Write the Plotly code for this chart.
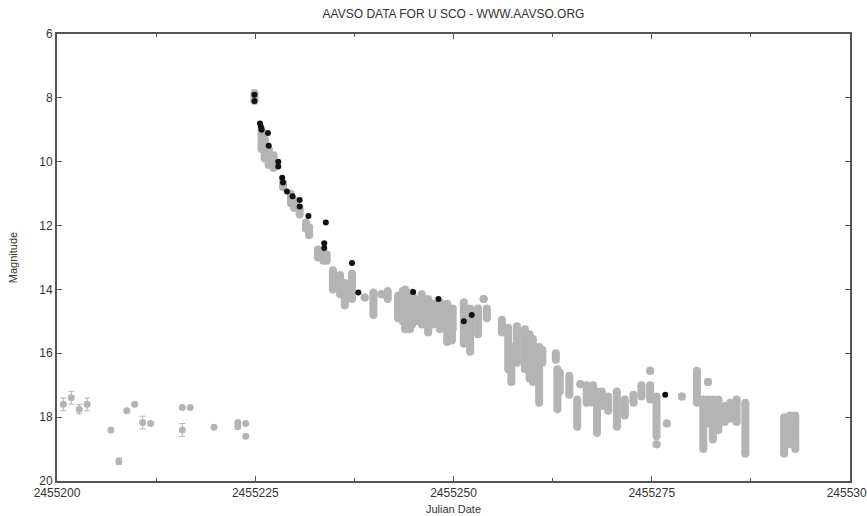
import plotly.graph_objects as go

# ---------------- data (JD offsets from 2455200, magnitudes) ----------------
JD0 = 2455200

# quiescent / pre-outburst observations with error bars
pre_jd = [0.8, 1.8, 2.8, 3.8, 6.8, 7.8, 8.8, 9.8, 10.8, 11.8, 15.8, 16.8, 15.8, 19.8, 22.8, 22.8, 23.8, 23.8]
pre_mag = [17.6, 17.39, 17.75, 17.6, 18.4, 19.38, 17.8, 17.6, 18.17, 18.2, 17.7, 17.7, 18.4, 18.32, 18.17, 18.3, 18.2, 18.6]
pre_err = [0.2, 0.2, 0.15, 0.2, 0.0, 0.1, 0.0, 0.0, 0.2, 0.0, 0.0, 0.0, 0.2, 0.0, 0.0, 0.0, 0.0, 0.0]

# gray (visual) nightly clusters: date, brightest mag, faintest mag
streak_jd = [24.9, 25.8, 26.2, 26.7, 27.3, 28.5, 29.5, 29.9, 30.6, 31.4, 31.8,
             32.9, 33.6, 34.0, 34.8, 35.7, 36.3, 37.2, 38.8, 39.9, 40.9, 41.7,
             43.0, 43.6, 43.9, 44.5, 44.8, 45.2, 46.0, 46.8, 47.4, 48.3, 49.2, 49.8, 49.9,
             51.3, 52.1, 53.1, 53.8, 54.2, 56.1, 56.9, 57.3, 58.0, 59.0, 59.6,
             60.0, 60.8, 61.2, 62.9, 63.1, 63.4, 64.6, 65.6, 66.0, 66.8, 67.6,
             68.1, 68.7, 69.5, 70.6, 71.6, 72.7, 73.7, 74.8, 74.8, 75.6, 75.6,
             76.9, 78.8, 80.7, 81.5, 82.1, 82.1, 82.7, 83.4, 84.2, 84.9, 85.7,
             86.8, 91.7, 92.4, 93.1]
streak_top = [7.85, 9.0, 9.3, 9.6, 9.8, 10.65, 11.0, 11.2, 11.45, 11.9, 12.05,
              12.75, 12.85, 12.9, 13.4, 13.55, 13.8, 13.5, 14.25, 14.1, 14.15, 14.05,
              14.2, 14.05, 14.0, 14.2, 14.1, 14.3, 14.15, 14.3, 14.45, 14.4, 14.45, 15.0, 14.6,
              14.4, 14.6, 14.6, 14.3, 14.6, 14.95, 15.2, 15.8, 15.15, 15.25, 15.4,
              15.55, 15.8, 15.9, 16.0, 16.5, 16.6, 16.7, 17.45, 16.97, 17.0, 17.0,
              17.2, 17.2, 17.35, 17.2, 17.45, 17.3, 17.0, 16.55, 17.0, 17.35, 18.85,
              18.2, 17.35, 16.55, 17.45, 16.9, 17.45, 17.45, 17.45, 17.65, 17.55, 17.45,
              17.55, 18.0, 17.95, 17.95]
streak_bot = [8.1, 9.6, 9.9, 10.1, 10.2, 10.8, 11.3, 11.45, 11.65, 12.1, 12.3,
              13.0, 13.1, 13.1, 14.0, 14.15, 14.5, 14.3, 14.25, 14.8, 14.15, 14.3,
              14.9, 15.0, 15.25, 15.25, 15.1, 15.0, 15.1, 15.35, 15.1, 15.25, 15.65, 15.6, 15.25,
              15.7, 15.95, 15.4, 14.3, 14.9, 15.35, 16.5, 16.9, 16.3, 16.5, 16.8,
              16.9, 17.55, 16.3, 16.2, 17.75, 17.2, 17.3, 18.3, 16.97, 17.55, 17.55,
              18.5, 17.65, 17.8, 18.3, 17.95, 17.55, 17.35, 16.55, 17.45, 18.6, 18.85,
              18.2, 17.35, 17.55, 19.0, 16.9, 18.2, 18.7, 18.4, 18.15, 18.05, 18.15,
              19.15, 19.15, 18.85, 19.0]

# black (CCD V) observations
black_jd = [24.9, 24.9, 25.6, 25.7, 25.8, 26.6, 26.7, 27.9, 27.9, 28.4, 28.5,
            29.0, 29.7, 30.6, 30.6, 31.7, 33.9, 33.7, 33.7, 37.2, 38.0, 44.9,
            48.1, 52.3, 51.3, 76.7]
black_mag = [7.9, 8.1, 8.8, 8.9, 9.0, 9.1, 9.5, 10.0, 10.15, 10.5, 10.65,
             10.93, 11.08, 11.2, 11.4, 11.7, 11.9, 12.55, 12.7, 13.17, 14.1, 14.08,
             14.3, 14.8, 15.0, 17.3]

x_ticks = [2455200, 2455225, 2455250, 2455275, 2455300]
y_ticks = [6, 8, 10, 12, 14, 16, 18, 20]

# ---------------- figure ----------------
GRAY = "#b4b4b4"
AXC = "#555555"
TXT = "#333333"
FONT = "Liberation Sans, Arial, Helvetica, sans-serif"

sx, sy = [], []
for j, a, b in zip(streak_jd, streak_top, streak_bot):
    sx += [JD0 + j, JD0 + j, None]
    sy += [a, b, None]

fig = go.Figure()
fig.add_trace(go.Scatter(
    x=sx, y=sy, mode="lines+markers",
    line=dict(color=GRAY, width=8),
    marker=dict(color=GRAY, size=8),
    hoverinfo="skip", showlegend=False))
fig.add_trace(go.Scatter(
    x=[JD0 + j for j in pre_jd], y=pre_mag, mode="markers",
    marker=dict(color=GRAY, size=7),
    error_y=dict(type="data", array=pre_err, color=GRAY, thickness=1, width=3),
    showlegend=False))
fig.add_trace(go.Scatter(
    x=[JD0 + j for j in black_jd], y=black_mag, mode="markers",
    marker=dict(color="#111111", size=6),
    showlegend=False))

fig.update_layout(
    width=867, height=516,
    margin=dict(l=57, r=17, t=34, b=35, autoexpand=False),
    paper_bgcolor="white", plot_bgcolor="white",
    font=dict(family=FONT, color=TXT, size=11),
    title=dict(text="AAVSO DATA FOR U SCO - WWW.AAVSO.ORG",
               x=0.5, xref="paper", y=1 - 14 / 516, yref="container",
               xanchor="center", yanchor="middle", automargin=False,
               font=dict(size=12, family=FONT, color=TXT)),
)
fig.update_xaxes(
    range=[2455200, 2455300], tickvals=x_ticks,
    ticktext=[str(v) for v in x_ticks],
    showgrid=False, zeroline=False, automargin=False,
    ticklabeloverflow="allow",
    showline=True, linecolor=AXC, linewidth=2, mirror="ticks",
    ticks="inside", ticklen=5, tickcolor=AXC, tickwidth=1,
    minor=dict(dtick=12.5, tick0=2455200, ticks="inside", ticklen=3, tickcolor=AXC),
    tickfont=dict(size=12, color=TXT),
    title=dict(text="Julian Date", font=dict(size=11, color=TXT), standoff=6),
)
fig.update_yaxes(
    range=[20, 6], tickvals=y_ticks,
    showgrid=False, zeroline=False, automargin=False,
    showline=True, linecolor=AXC, linewidth=2, mirror="ticks",
    ticks="inside", ticklen=5, tickcolor=AXC, tickwidth=1,
    tickfont=dict(size=12, color=TXT),
    title=dict(text="Magnitude", font=dict(size=11, color=TXT), standoff=19),
)

fig.write_html("out.html", config={"displayModeBar": False},
               post_script="document.body.style.margin='0';document.body.style.overflow='hidden';")
